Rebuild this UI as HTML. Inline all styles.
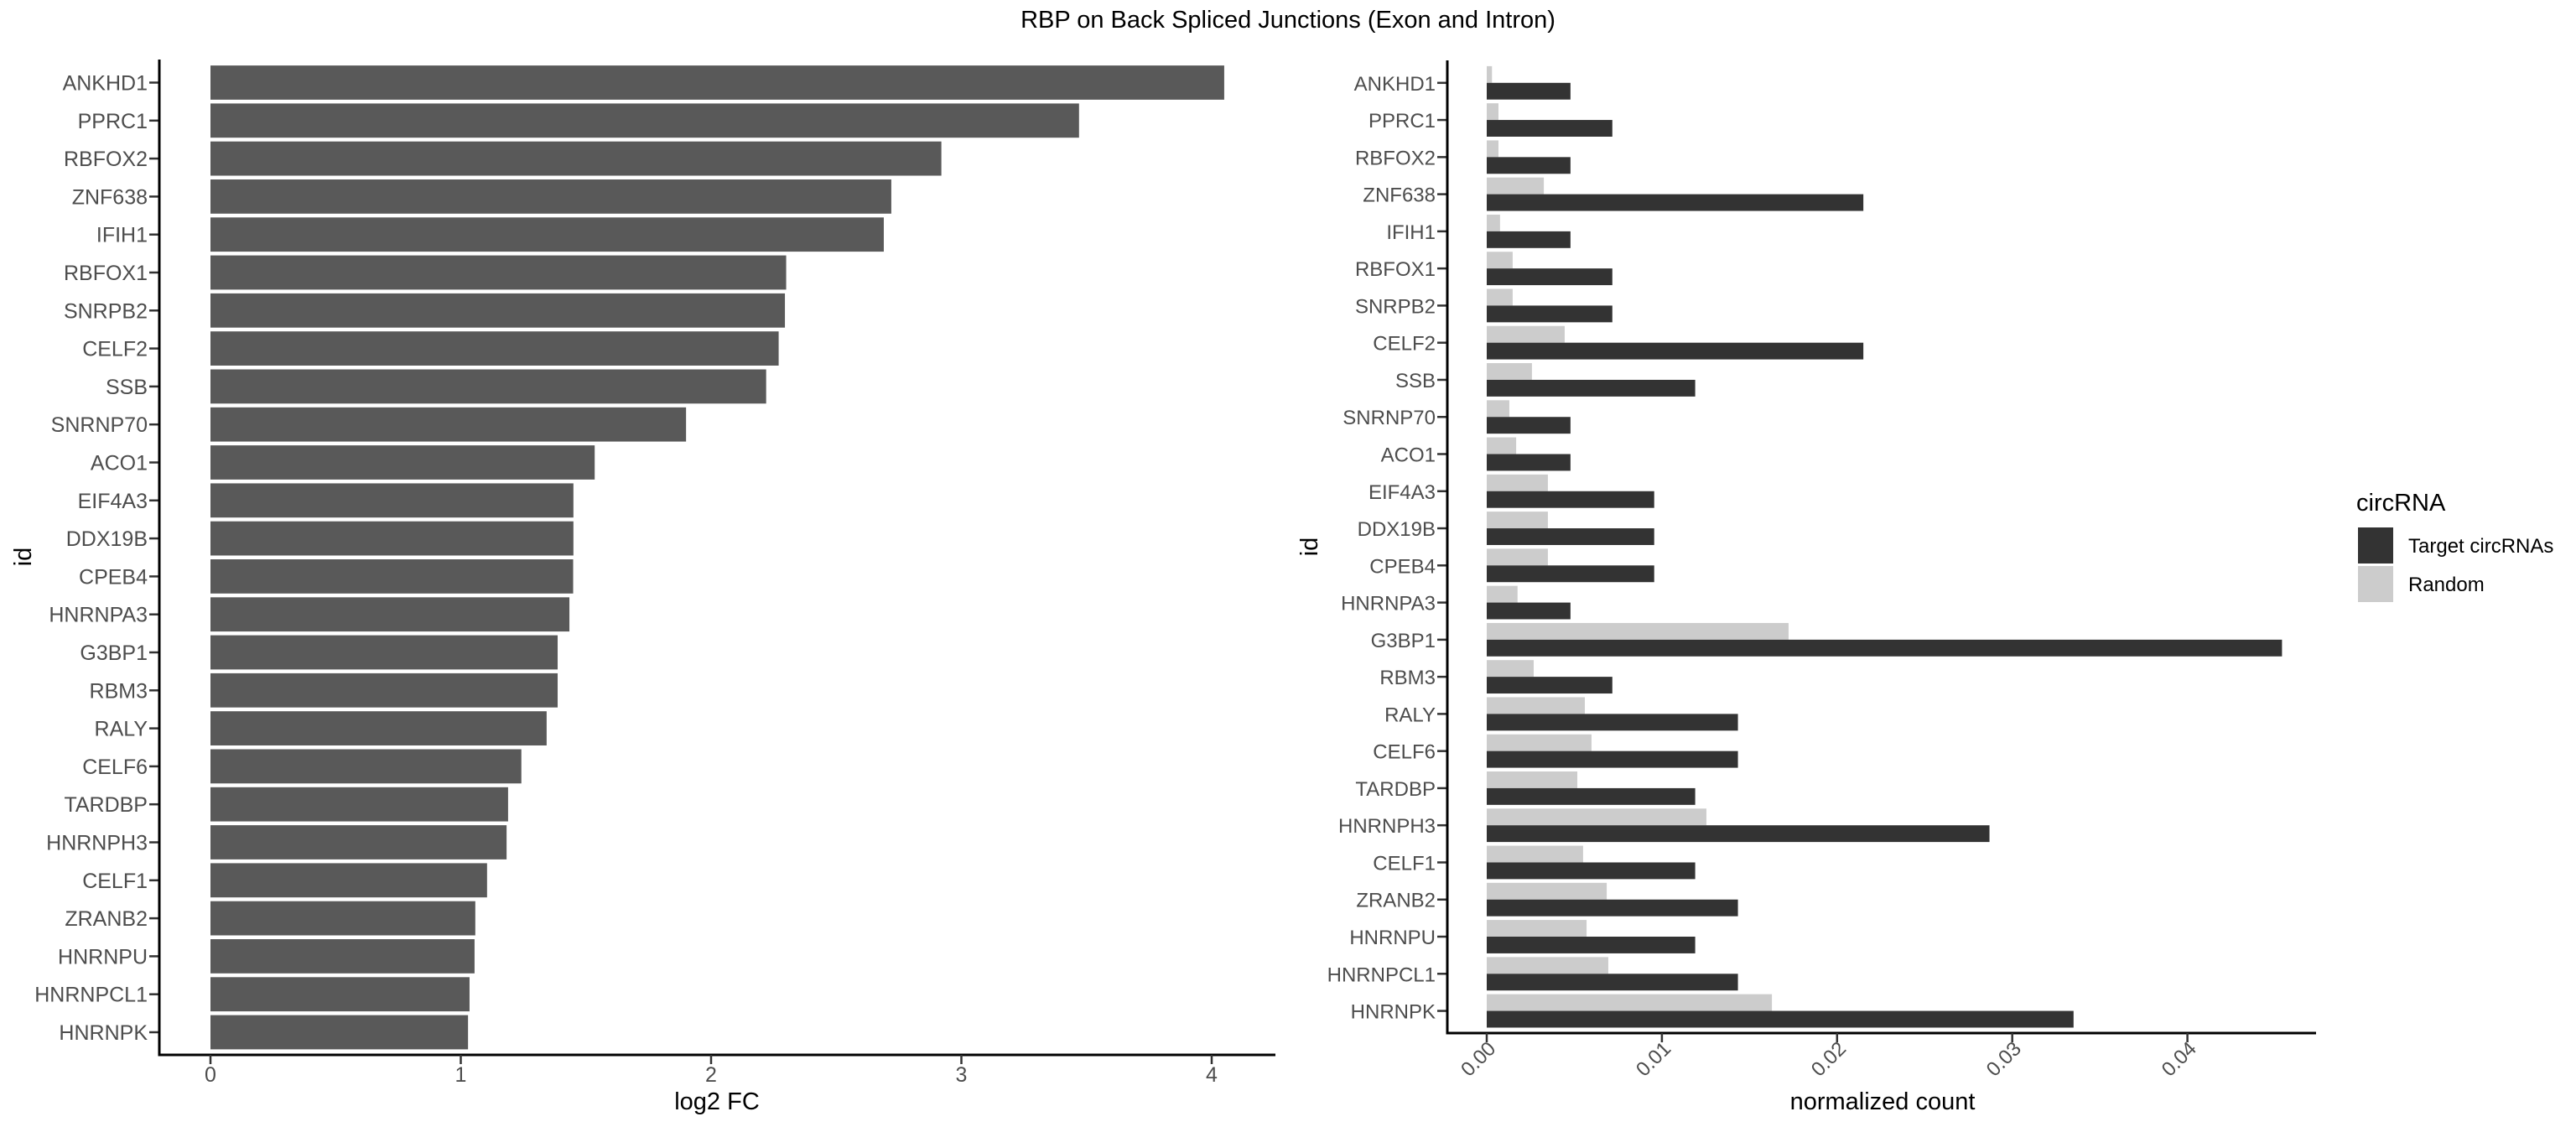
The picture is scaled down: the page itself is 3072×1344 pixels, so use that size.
<!DOCTYPE html>
<html><head><meta charset="utf-8">
<style>
html,body{margin:0;padding:0;background:#fff;}
svg{display:block;font-family:"Liberation Sans",Arial,sans-serif;}
</style></head>
<body>
<svg id="chart" width="3072" height="1344" viewBox="0 0 3072 1344" xmlns="http://www.w3.org/2000/svg">
<rect width="3072" height="1344" fill="#fff"/>
<text x="1536" y="33" text-anchor="middle" font-size="29" fill="#000">RBP on Back Spliced Junctions (Exon and Intron)</text>
<g id="left"></g>
<g id="right"></g>
<g id="legend">
<text x="2810" y="609" font-size="29" fill="#000">circRNA</text>
<rect x="2812" y="629" width="42" height="43" fill="#333333"/>
<text x="2872" y="659" font-size="24" fill="#000">Target circRNAs</text>
<rect x="2812" y="675" width="42" height="43" fill="#cccccc"/>
<text x="2872" y="705" font-size="24" fill="#000">Random</text>
</g>
</svg>
<script>
const categories = ["ANKHD1","PPRC1","RBFOX2","ZNF638","IFIH1","RBFOX1","SNRPB2","CELF2","SSB","SNRNP70","ACO1","EIF4A3","DDX19B","CPEB4","HNRNPA3","G3BP1","RBM3","RALY","CELF6","TARDBP","HNRNPH3","CELF1","ZRANB2","HNRNPU","HNRNPCL1","HNRNPK"];
const log2fc = [4.05,3.47,2.92,2.72,2.69,2.30,2.295,2.27,2.22,1.90,1.535,1.45,1.45,1.449,1.434,1.387,1.387,1.343,1.242,1.189,1.183,1.105,1.058,1.055,1.035,1.029];
const leftTicks = [0,1,2,3,4];
const targetCounts = [0.00478,0.00717,0.00478,0.0215,0.00478,0.00717,0.00717,0.0215,0.0119,0.00478,0.00478,0.00956,0.00956,0.00956,0.00478,0.0454,0.00717,0.01434,0.01434,0.0119,0.0287,0.0119,0.01434,0.0119,0.01434,0.0335];
const randomCounts = [0.0003,0.00067,0.00067,0.00326,0.00076,0.00148,0.00148,0.00445,0.00258,0.00129,0.00168,0.00349,0.00349,0.00349,0.00176,0.01723,0.00268,0.0056,0.00598,0.00517,0.01254,0.0055,0.00685,0.0057,0.00694,0.01628];
const rightTicks = [0,0.01,0.02,0.03,0.04];
const rightTickLabels = ["0.00","0.01","0.02","0.03","0.04"];

const NS = "http://www.w3.org/2000/svg";
function mk(parent, tag, attrs, text){
  const e = document.createElementNS(NS, tag);
  for (const k in attrs) e.setAttribute(k, attrs[k]);
  if (text !== undefined) e.textContent = text;
  parent.appendChild(e);
  return e;
}

// ---------- left panel ----------
const L = document.getElementById('left');
const lx = v => 251 + v * 298.5;
const lyTop = 98.5, lStep = 45.3;
const ly = i => lyTop + i * lStep;
const lAxisX = 190, lAxisY = 1258;
categories.forEach((c, i) => {
  const r = mk(L, 'rect', {x: lx(0), y: ly(i) - lStep*0.45, width: lx(log2fc[i]) - lx(0), height: lStep*0.9, fill: '#595959'});
  
  
  const t = mk(L, 'line', {x1: lAxisX - 12, x2: lAxisX, y1: ly(i), y2: ly(i), stroke: '#333', 'stroke-width': 2.5});
  
  
  const lb = mk(L, 'text', {x: 176, y: ly(i) + 9, 'text-anchor': 'end', 'font-size': 25, fill: '#4d4d4d'}, c);
  
  
});
const lya = mk(L, 'line', {x1: lAxisX, x2: lAxisX, y1: 71, y2: lAxisY + 1.5, stroke: '#000', 'stroke-width': 3});


const lxa = mk(L, 'line', {x1: lAxisX - 1.5, x2: 1521, y1: lAxisY, y2: lAxisY, stroke: '#000', 'stroke-width': 3});


leftTicks.forEach(v => {
  const t = mk(L, 'line', {x1: lx(v), x2: lx(v), y1: lAxisY, y2: lAxisY + 11, stroke: '#333', 'stroke-width': 2.5});
  
  
  const lb = mk(L, 'text', {x: lx(v), y: 1290, 'text-anchor': 'middle', 'font-size': 25, fill: '#4d4d4d'}, String(v));
  
  
});
const lxt = mk(L, 'text', {x: 855, y: 1323, 'text-anchor': 'middle', 'font-size': 29, fill: '#000'}, 'log2 FC');


const lyt = mk(L, 'text', {x: 0, y: 0, 'text-anchor': 'middle', 'font-size': 29, fill: '#000', transform: 'translate(37,664) rotate(-90)'}, 'id');



// ---------- right panel ----------
const R = document.getElementById('right');
const rx = v => 1773 + v * 20890;
const ryTop = 98.8, rStep = 44.27;
const ry = i => ryTop + i * rStep;
const rAxisX = 1726, rAxisY = 1232;
const bh = rStep * 0.45;
categories.forEach((c, i) => {
  const a = mk(R, 'rect', {x: rx(0), y: ry(i) - bh, width: rx(randomCounts[i]) - rx(0), height: bh, fill: '#cccccc'});
  
  
  const b = mk(R, 'rect', {x: rx(0), y: ry(i), width: rx(targetCounts[i]) - rx(0), height: bh, fill: '#333333'});
  
  
  const t = mk(R, 'line', {x1: rAxisX - 12, x2: rAxisX, y1: ry(i), y2: ry(i), stroke: '#333', 'stroke-width': 2.5});
  
  
  const lb = mk(R, 'text', {x: 1712, y: ry(i) + 9, 'text-anchor': 'end', 'font-size': 24, fill: '#4d4d4d'}, c);
  
  
});
const rya = mk(R, 'line', {x1: rAxisX, x2: rAxisX, y1: 72, y2: rAxisY + 1.5, stroke: '#000', 'stroke-width': 3});


const rxa = mk(R, 'line', {x1: rAxisX - 1.5, x2: 2762, y1: rAxisY, y2: rAxisY, stroke: '#000', 'stroke-width': 3});


rightTicks.forEach((v, k) => {
  const t = mk(R, 'line', {x1: rx(v), x2: rx(v), y1: rAxisY, y2: rAxisY + 11, stroke: '#333', 'stroke-width': 2.5});
  
  
  const lb = mk(R, 'text', {x: 0, y: 0, 'text-anchor': 'end', 'font-size': 24, fill: '#4d4d4d', transform: 'translate(' + (rx(v) + 12) + ',1252) rotate(-45)'}, rightTickLabels[k]);
  
  
});
const rxt = mk(R, 'text', {x: 2245, y: 1323, 'text-anchor': 'middle', 'font-size': 29, fill: '#000'}, 'normalized count');


const ryt = mk(R, 'text', {x: 0, y: 0, 'text-anchor': 'middle', 'font-size': 29, fill: '#000', transform: 'translate(1571,652) rotate(-90)'}, 'id');


</script>
</body></html>
